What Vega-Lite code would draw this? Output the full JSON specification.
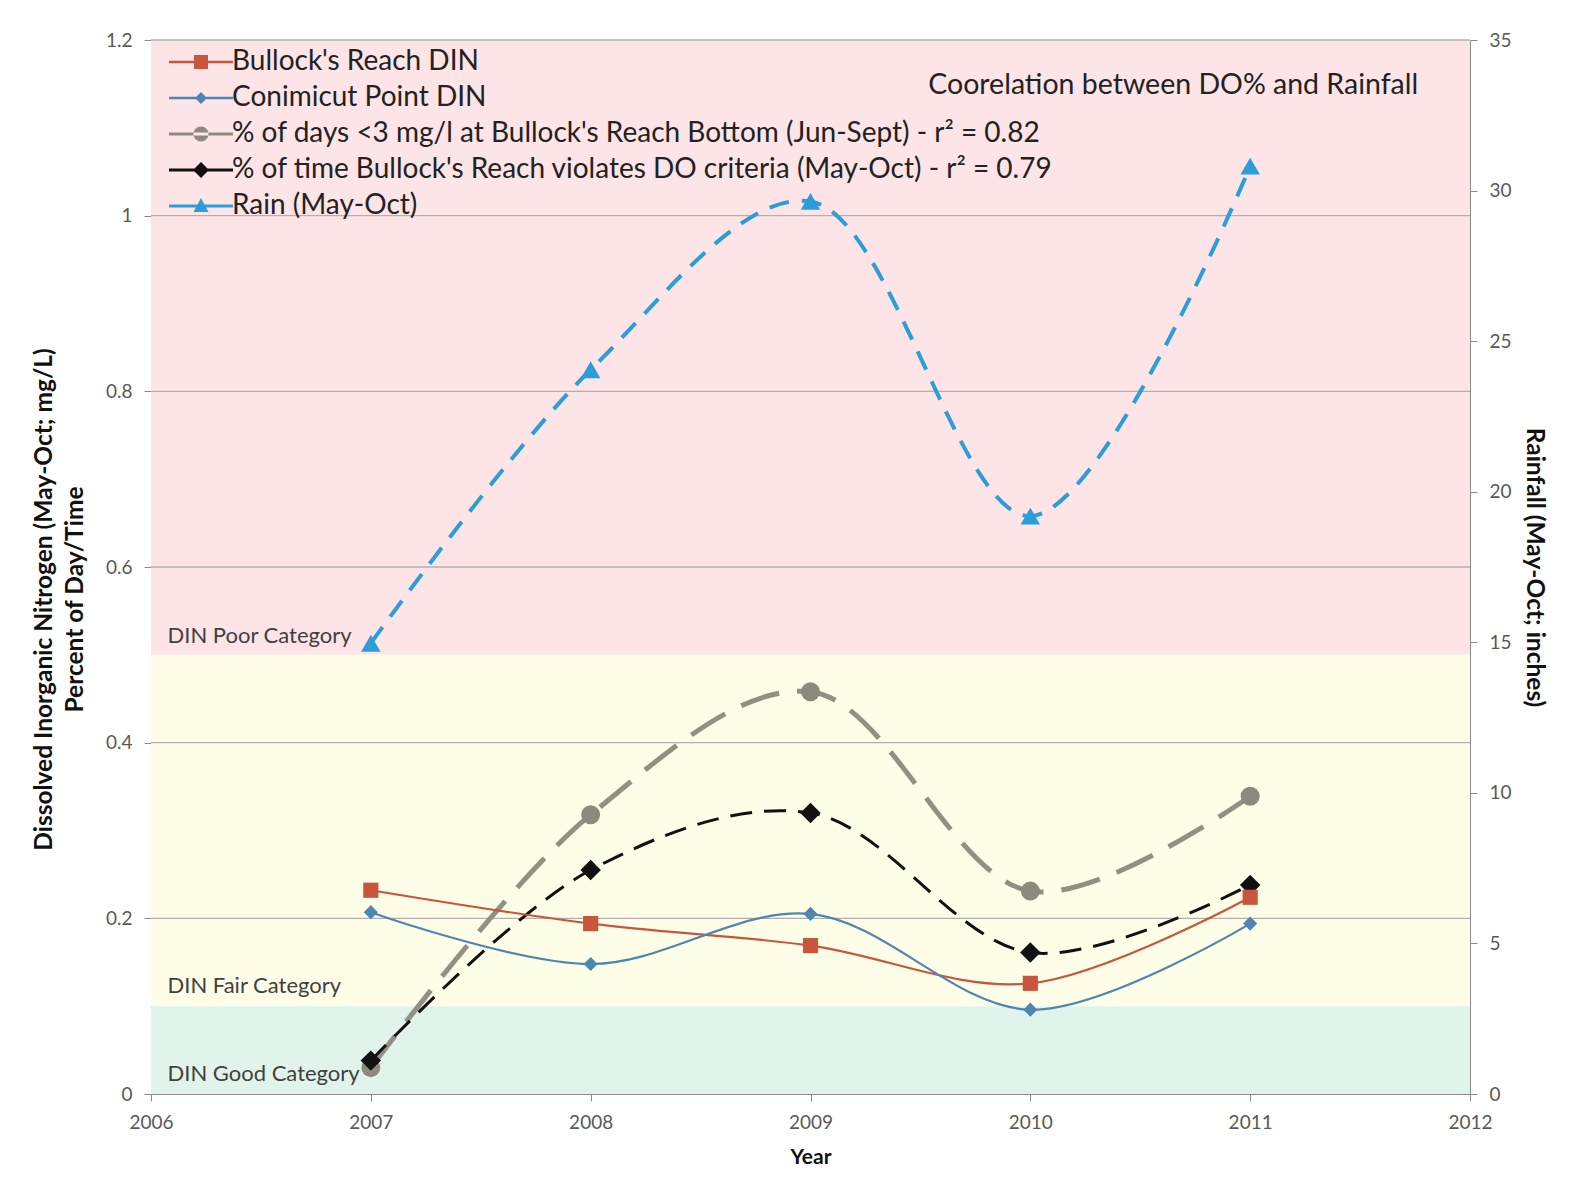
{
  "$schema": "https://vega.github.io/schema/vega-lite/v6.json",
  "width": 1319,
  "height": 1054,
  "padding": {"left": 151, "top": 40, "right": 111, "bottom": 84},
  "autosize": {"type": "none"},
  "background": "white",
  "config": {
    "view": {"stroke": null},
    "font": "Lato",
    "axis": {
      "labelFont": "Lato", "labelFontSize": 19, "labelColor": "#595959",
      "titleFont": "Lato", "titleFontSize": 24.5, "titleFontWeight": "bold", "titleColor": "#111111",
      "domainColor": "#8a8a8a", "tickColor": "#8a8a8a", "tickSize": 7, "labelPadding": 12, "grid": false, "labelFlush": false
    },
    "legend": {"padding": 0}
  },
  "datasets": {
    "series": [
      {"year": 2007, "series": "Bullock's Reach DIN", "value": 0.232},
      {"year": 2008, "series": "Bullock's Reach DIN", "value": 0.194},
      {"year": 2009, "series": "Bullock's Reach DIN", "value": 0.169},
      {"year": 2010, "series": "Bullock's Reach DIN", "value": 0.126},
      {"year": 2011, "series": "Bullock's Reach DIN", "value": 0.224},
      {"year": 2007, "series": "Conimicut Point DIN", "value": 0.207},
      {"year": 2008, "series": "Conimicut Point DIN", "value": 0.148},
      {"year": 2009, "series": "Conimicut Point DIN", "value": 0.205},
      {"year": 2010, "series": "Conimicut Point DIN", "value": 0.096},
      {"year": 2011, "series": "Conimicut Point DIN", "value": 0.194},
      {"year": 2007, "series": "% of days <3 mg/l at Bullock's Reach Bottom (Jun-Sept)", "value": 0.030},
      {"year": 2008, "series": "% of days <3 mg/l at Bullock's Reach Bottom (Jun-Sept)", "value": 0.318},
      {"year": 2009, "series": "% of days <3 mg/l at Bullock's Reach Bottom (Jun-Sept)", "value": 0.458},
      {"year": 2010, "series": "% of days <3 mg/l at Bullock's Reach Bottom (Jun-Sept)", "value": 0.231},
      {"year": 2011, "series": "% of days <3 mg/l at Bullock's Reach Bottom (Jun-Sept)", "value": 0.339},
      {"year": 2007, "series": "% of time Bullock's Reach violates DO criteria (May-Oct)", "value": 0.038},
      {"year": 2008, "series": "% of time Bullock's Reach violates DO criteria (May-Oct)", "value": 0.255},
      {"year": 2009, "series": "% of time Bullock's Reach violates DO criteria (May-Oct)", "value": 0.320},
      {"year": 2010, "series": "% of time Bullock's Reach violates DO criteria (May-Oct)", "value": 0.161},
      {"year": 2011, "series": "% of time Bullock's Reach violates DO criteria (May-Oct)", "value": 0.238},
      {"year": 2007, "series": "Rain (May-Oct)", "value": 14.97},
      {"year": 2008, "series": "Rain (May-Oct)", "value": 24.05},
      {"year": 2009, "series": "Rain (May-Oct)", "value": 29.64},
      {"year": 2010, "series": "Rain (May-Oct)", "value": 19.19},
      {"year": 2011, "series": "Rain (May-Oct)", "value": 30.81}
    ],
    "bands": [
      {"category": "Poor", "lo": 0.5, "hi": 1.2, "label": "DIN Poor Category", "labelAt": 0.514},
      {"category": "Fair", "lo": 0.1, "hi": 0.5, "label": "DIN Fair Category", "labelAt": 0.115},
      {"category": "Good", "lo": 0.0, "hi": 0.1, "label": "DIN Good Category", "labelAt": 0.015}
    ],
    "grid": [{"v": 0.2}, {"v": 0.4}, {"v": 0.6}, {"v": 0.8}, {"v": 1.0}, {"v": 1.2}]
  },
  "resolve": {"scale": {"y": "independent"}},
  "layer": [
    {
      "data": {"name": "bands"},
      "mark": {"type": "rect"},
      "encoding": {
        "x": {"datum": 2006, "type": "quantitative", "scale": {"domain": [2006, 2012], "nice": false},
              "axis": {"title": "Year", "format": "d", "values": [2006, 2007, 2008, 2009, 2010, 2011, 2012], "titlePadding": 14, "titleFontSize": 21}},
        "x2": {"datum": 2012},
        "y": {"field": "lo", "type": "quantitative", "scale": {"domain": [0, 1.2], "nice": false},
              "axis": {"title": ["Dissolved Inorganic Nitrogen (May-Oct; mg/L)", "Percent of Day/Time"], "format": ".1~f", "values": [0, 0.2, 0.4, 0.6, 0.8, 1, 1.2], "titlePadding": 18, "titleLineHeight": 31, "titleY": 559}},
        "y2": {"field": "hi"},
        "fill": {"field": "category", "type": "nominal", "legend": null,
                 "scale": {"domain": ["Poor", "Fair", "Good"], "range": ["#fde4e7", "#fefee8", "#e1f4eb"]}}
      }
    },
    {
      "data": {"name": "grid"},
      "mark": {"type": "rule", "color": "#b5aeae", "strokeWidth": 1.3},
      "encoding": {
        "y": {"field": "v", "type": "quantitative", "scale": {"domain": [0, 1.2], "nice": false}, "axis": null}
      }
    },
    {
      "data": {"name": "bands"},
      "mark": {"type": "text", "align": "left", "baseline": "alphabetic", "fontSize": 22, "color": "#404040", "font": "Lato"},
      "encoding": {
        "x": {"datum": 2006.075, "type": "quantitative", "title": "Year"},
        "y": {"field": "labelAt", "type": "quantitative", "scale": {"domain": [0, 1.2], "nice": false}, "axis": null},
        "text": {"field": "label"}
      }
    },
    {
      "data": {"values": [{"note": "Coorelation between DO% and Rainfall", "yr": 2010.65, "at": 1.138}]},
      "mark": {"type": "text", "align": "center", "baseline": "alphabetic", "fontSize": 28.5, "color": "#222222", "font": "Lato"},
      "encoding": {
        "x": {"field": "yr", "type": "quantitative", "title": "Year"},
        "y": {"field": "at", "type": "quantitative", "scale": {"domain": [0, 1.2], "nice": false}, "axis": null},
        "text": {"field": "note"}
      }
    },
    {
      "data": {"name": "series"},
      "transform": [{"filter": "datum.series !== 'Rain (May-Oct)'"}],
      "encoding": {
        "x": {"field": "year", "type": "quantitative", "title": "Year"},
        "y": {"field": "value", "type": "quantitative", "scale": {"domain": [0, 1.2], "nice": false}, "axis": null}
      },
      "layer": [
        {"transform": [{"filter": "indexof(datum.series, 'Jun-Sept') >= 0"}],
         "mark": {"type": "line", "interpolate": "catmull-rom", "color": "#8b8b7d", "strokeWidth": 5, "strokeDash": [40, 18], "opacity": 0.95}},
        {"transform": [{"filter": "indexof(datum.series, 'violates') >= 0"}],
         "mark": {"type": "line", "interpolate": "catmull-rom", "color": "#111111", "strokeWidth": 3, "strokeDash": [22, 12]}},
        {"transform": [{"filter": "indexof(datum.series, 'Bullock') == 0"}],
         "mark": {"type": "line", "interpolate": "catmull-rom", "color": "#c8553c", "strokeWidth": 2.2}},
        {"transform": [{"filter": "datum.series === 'Conimicut Point DIN'"}],
         "mark": {"type": "line", "interpolate": "catmull-rom", "color": "#4f86b0", "strokeWidth": 2.2}},
        {"transform": [{"filter": "indexof(datum.series, 'Jun-Sept') >= 0"}],
         "mark": {"type": "point", "shape": "circle", "filled": true, "size": 360, "color": "#8b8b7d", "opacity": 1}},
        {"transform": [{"filter": "indexof(datum.series, 'violates') >= 0"}],
         "mark": {"type": "point", "shape": "diamond", "filled": true, "size": 420, "color": "#111111", "opacity": 1}},
        {"transform": [{"filter": "indexof(datum.series, 'Bullock') == 0"}],
         "mark": {"type": "point", "shape": "square", "filled": true, "size": 230, "color": "#c8553c", "opacity": 1}},
        {"transform": [{"filter": "datum.series === 'Conimicut Point DIN'"}],
         "mark": {"type": "point", "shape": "diamond", "filled": true, "size": 200, "color": "#4f86b0", "opacity": 1}}
      ]
    },
    {
      "data": {"name": "series"},
      "transform": [{"filter": "datum.series === 'Rain (May-Oct)'"}],
      "encoding": {
        "x": {"field": "year", "type": "quantitative", "title": "Year"},
        "y": {"field": "value", "type": "quantitative", "scale": {"domain": [0, 35], "nice": false},
              "axis": {"orient": "right", "title": "Rainfall (May-Oct; inches)", "values": [0, 5, 10, 15, 20, 25, 30, 35], "titlePadding": 10}}
      },
      "layer": [
        {"mark": {"type": "line", "interpolate": "catmull-rom", "color": "#2b9ed8", "strokeWidth": 4, "strokeDash": [20, 13]}},
        {"mark": {"type": "point", "shape": "triangle-up", "filled": true, "size": 380, "color": "#2b9ed8", "opacity": 1}}
      ]
    },
    {
      "data": {"name": "series"},
      "mark": {"type": "point", "filled": true, "opacity": 0},
      "encoding": {
        "x": {"field": "year", "type": "quantitative", "title": "Year"},
        "y": {"field": "value", "type": "quantitative", "scale": {"domain": [0, 35]}, "axis": null},
        "color": {"field": "series", "type": "nominal",
                  "scale": {"domain": ["Bullock's Reach DIN", "Conimicut Point DIN", "% of days <3 mg/l at Bullock's Reach Bottom (Jun-Sept)", "% of time Bullock's Reach violates DO criteria (May-Oct)", "Rain (May-Oct)"],
                            "range": ["#c8553c", "#4f86b0", "#8b8b7d", "#111111", "#2b9ed8"]},
                  "legend": {
                    "orient": "none", "legendX": 36, "legendY": 8, "title": null,
                    "labelFont": "Lato", "labelFontSize": 28, "labelColor": "#222222", "labelLimit": 0,
                    "symbolSize": 400, "symbolOpacity": 1, "labelOffset": 17, "rowPadding": 8,
                    "labelExpr": "indexof(datum.label, 'Jun-Sept') >= 0 ? datum.label + '  -  r² = 0.82' : (indexof(datum.label, 'violates') >= 0 ? datum.label + ' -  r² = 0.79' : datum.label)"
                  }},
        "shape": {"field": "series", "type": "nominal",
                  "scale": {"domain": ["Bullock's Reach DIN", "Conimicut Point DIN", "% of days <3 mg/l at Bullock's Reach Bottom (Jun-Sept)", "% of time Bullock's Reach violates DO criteria (May-Oct)", "Rain (May-Oct)"],
                            "range": [
                              "M-3.2,-0.12H3.2V0.12H-3.2ZM-0.7,-0.7H0.7V0.7H-0.7Z",
                              "M-3.2,-0.12H3.2V0.12H-3.2ZM0,-0.6L0.6,0L0,0.6L-0.6,0Z",
                              "M-3.2,-0.15H3.2V0.15H-3.2ZM-0.75,0A0.75,0.75,0,1,0,0.75,0A0.75,0.75,0,1,0,-0.75,0Z",
                              "M-3.2,-0.14H3.2V0.14H-3.2ZM0,-0.8L0.8,0L0,0.8L-0.8,0Z",
                              "M-3.2,-0.15H3.2V0.15H-3.2ZM0,-0.8L0.75,0.6L-0.75,0.6Z"
                            ]},
                  "legend": {
                    "orient": "none", "legendX": 36, "legendY": 8, "title": null,
                    "labelFont": "Lato", "labelFontSize": 28, "labelColor": "#222222", "labelLimit": 0,
                    "symbolSize": 400, "symbolOpacity": 1, "labelOffset": 17, "rowPadding": 8,
                    "labelExpr": "indexof(datum.label, 'Jun-Sept') >= 0 ? datum.label + '  -  r² = 0.82' : (indexof(datum.label, 'violates') >= 0 ? datum.label + ' -  r² = 0.79' : datum.label)"
                  }}
      }
    }
  ]
}
